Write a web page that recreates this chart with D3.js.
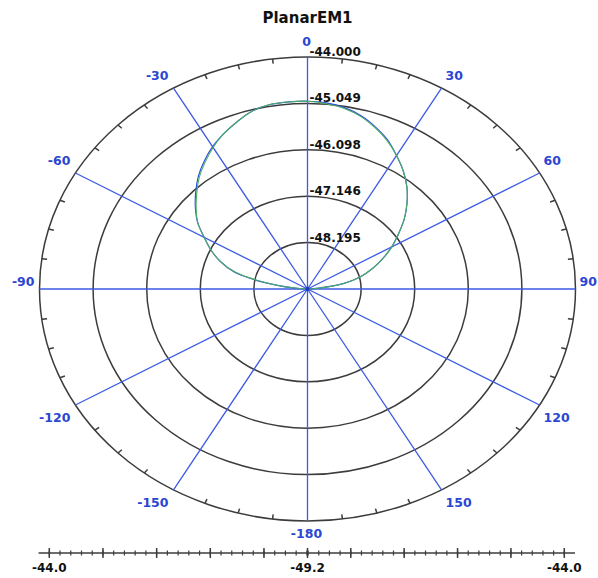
<!DOCTYPE html>
<html>
<head>
<meta charset="utf-8">
<script src="https://cdn.jsdelivr.net/npm/d3@7"></script>
<style>
  body { margin: 0; background: #fff; }
  text { font-family: "DejaVu Sans", sans-serif; font-weight: bold; }
</style>
</head>
<body>
<svg id="chart" width="598" height="578"></svg>
<script>
// ---- data -------------------------------------------------------------
const chartTitle = "PlanarEM1";

// spoke directions (degrees, 0 = up, clockwise) and their labels
const spokeAngles = [0, 30, 60, 90, 120, 150, 180, -150, -120, -90, -60, -30];
const spokeLabels = ["0", "30", "60", "90", "120", "150", "-180", "-150", "-120", "-90", "-60", "-30"];

// radial range (dB) and ring levels
const radialMin = -49.244;
const radialMax = -44.0;
const ringValues = [-48.195, -47.146, -46.098, -45.049, -44.000];
const ringLabels = ["-48.195", "-47.146", "-46.098", "-45.049", "-44.000"];

// pattern sample angles (degrees)
const patternAngles = [-90, -85, -80, -75, -70, -65, -60, -55, -50, -45, -40, -35, -30, -25, -20, -15, -10, -5,
  0, 5, 10, 15, 20, 25, 30, 35, 40, 45, 50, 55, 60, 65, 70, 75, 80, 85, 90];

// two traces of the radiation pattern (dB)
const traceBlue = [-49.60, -48.96, -48.38, -47.76, -47.43, -47.16, -46.91, -46.62, -46.38, -46.15, -45.92, -45.72,
  -45.53, -45.37, -45.22, -45.08, -45.01, -45.00,
  -45.00, -45.02, -45.08, -45.19, -45.35, -45.53, -45.76, -45.98, -46.22, -46.49, -46.77, -47.07, -47.34,
  -47.62, -47.89, -48.17, -48.52, -49.03, -49.60];
const traceGreen = [-49.60, -49.00, -48.42, -47.79, -47.43, -47.16, -46.91, -46.62, -46.40, -46.18, -45.95, -45.75,
  -45.55, -45.37, -45.22, -45.08, -45.01, -45.00,
  -45.00, -45.04, -45.10, -45.21, -45.37, -45.55, -45.76, -45.98, -46.22, -46.49, -46.77, -47.07, -47.34,
  -47.62, -47.89, -48.17, -48.52, -49.03, -49.60];

// bottom distance axis (dB, mirrored about the centre)
const axisEndValue = -44.0;
const axisCentreValue = -49.244;
const axisMajorStep = 1.09;
const axisMinorPerMajor = 5;
const axisLabels = ["-44.0", "-49.2", "-44.0"];

// ---- drawing ----------------------------------------------------------
const svg = d3.select("#chart");
const cx = 307.5, cy = 289, rx = 268, ry = 232;

const gridColor = "#3c3c3c";
const spokeColor = "#3b5ae6";
const labelBlue = "#2a46d2";

const frac = d3.scaleLinear().domain([radialMin, radialMax]).range([0, 1]).clamp(true);
const rad = d => d * Math.PI / 180;
const px = (a, f) => cx + f * rx * Math.sin(rad(a));
const py = (a, f) => cy - f * ry * Math.cos(rad(a));

// title
svg.append("text")
  .attr("x", cx).attr("y", 23)
  .attr("text-anchor", "middle")
  .attr("font-size", 15)
  .attr("fill", "#111")
  .text(chartTitle);

// rings
svg.append("g").selectAll("ellipse")
  .data(ringValues)
  .join("ellipse")
  .attr("cx", cx).attr("cy", cy)
  .attr("rx", d => frac(d) * rx)
  .attr("ry", d => frac(d) * ry)
  .attr("fill", "none")
  .attr("stroke", gridColor)
  .attr("stroke-width", 1.5);

// minor ticks on the outer ring every 7.5 degrees
const tickAngles = d3.range(-180, 180, 7.5).filter(a => Math.abs(a % 30) > 0.01);
svg.append("g").selectAll("line")
  .data(tickAngles)
  .join("line")
  .attr("x1", a => px(a, 1)).attr("y1", a => py(a, 1))
  .attr("x2", a => px(a, 0.98)).attr("y2", a => py(a, 0.98))
  .attr("stroke", gridColor)
  .attr("stroke-width", 1.5);

// spokes
svg.append("g").selectAll("line")
  .data(spokeAngles)
  .join("line")
  .attr("x1", cx).attr("y1", cy)
  .attr("x2", a => px(a, 1)).attr("y2", a => py(a, 1))
  .attr("stroke", spokeColor)
  .attr("stroke-width", 1.3);

// spoke labels
svg.append("g").selectAll("text")
  .data(spokeAngles.map((a, i) => ({ a, label: spokeLabels[i] })))
  .join("text")
  .attr("font-size", 12.5)
  .attr("fill", labelBlue)
  .attr("dominant-baseline", "central")
  .attr("text-anchor", d => {
    const s = Math.sin(rad(d.a));
    return s > 0.01 ? "start" : (s < -0.01 ? "end" : "middle");
  })
  .attr("x", d => {
    const s = Math.sin(rad(d.a));
    return px(d.a, 1) + (s > 0.01 ? 4 : (s < -0.01 ? -5 : -1));
  })
  .attr("y", d => {
    const c = Math.cos(rad(d.a));
    if (c > 0.99) return py(d.a, 1) - 16;
    return py(d.a, 1) + (c > 0.01 ? -12.5 : (c < -0.01 ? 12.5 : -8));
  })
  .text(d => d.label);

// ring value labels along the 0-degree spoke
svg.append("g").selectAll("text")
  .data(ringValues.map((v, i) => ({ v, label: ringLabels[i] })))
  .join("text")
  .attr("x", cx + 2)
  .attr("y", d => py(0, frac(d.v)) - 1)
  .attr("font-size", 12)
  .attr("fill", "#111")
  .text(d => d.label);

// pattern traces
const line = d3.line()
  .x(d => px(d.a, frac(d.v)))
  .y(d => py(d.a, frac(d.v)))
  .curve(d3.curveCatmullRom);

const toPoints = vals => patternAngles.map((a, i) => ({ a, v: vals[i] }));

svg.append("path")
  .datum(toPoints(traceBlue))
  .attr("d", line)
  .attr("fill", "none")
  .attr("stroke", "#2f4fe0")
  .attr("stroke-width", 1.2);

svg.append("path")
  .datum(toPoints(traceGreen))
  .attr("d", line)
  .attr("fill", "none")
  .attr("stroke", "#4caf63")
  .attr("stroke-width", 1.1);

// centre dot
svg.append("circle").attr("cx", cx).attr("cy", cy).attr("r", 2).attr("fill", "#2036c0");

// bottom axis: mirrored distance scale
const axisY = 553;
const leftScale = d3.scaleLinear().domain([axisEndValue, axisCentreValue]).range([49.3, cx]);
const rightScale = d3.scaleLinear().domain([axisCentreValue, axisEndValue]).range([cx, 564.3]);
const minorStep = axisMajorStep / axisMinorPerMajor;

const majorVals = d3.range(0, Math.abs(axisCentreValue - axisEndValue) - 1e-6, axisMajorStep)
  .map(k => axisEndValue - k);
const minorVals = d3.range(0, Math.abs(axisCentreValue - axisEndValue) - 1e-6, minorStep)
  .map(k => axisEndValue - k);

const majorX = [...majorVals.map(leftScale), cx, ...majorVals.map(rightScale)];
const minorX = [...minorVals.map(leftScale), ...minorVals.map(rightScale)];
const minorPx = leftScale(axisEndValue - minorStep) - leftScale(axisEndValue);

const axisG = svg.append("g");
axisG.append("line")
  .attr("x1", leftScale(axisEndValue) - minorPx)
  .attr("x2", rightScale(axisEndValue) + minorPx)
  .attr("y1", axisY).attr("y2", axisY)
  .attr("stroke", gridColor).attr("stroke-width", 1.5);

axisG.selectAll("line.minor")
  .data(minorX)
  .join("line")
  .attr("class", "minor")
  .attr("x1", d => d).attr("x2", d => d)
  .attr("y1", axisY - 2.5).attr("y2", axisY + 2.5)
  .attr("stroke", gridColor).attr("stroke-width", 1.2);

axisG.selectAll("line.major")
  .data(majorX)
  .join("line")
  .attr("class", "major")
  .attr("x1", d => d).attr("x2", d => d)
  .attr("y1", axisY - 5).attr("y2", axisY + 5)
  .attr("stroke", gridColor).attr("stroke-width", 1.5);

axisG.selectAll("text")
  .data([leftScale(axisEndValue), cx, rightScale(axisEndValue)])
  .join("text")
  .attr("x", d => d)
  .attr("y", 572)
  .attr("text-anchor", "middle")
  .attr("font-size", 12)
  .attr("fill", "#111")
  .text((d, i) => axisLabels[i]);
</script>
</body>
</html>
